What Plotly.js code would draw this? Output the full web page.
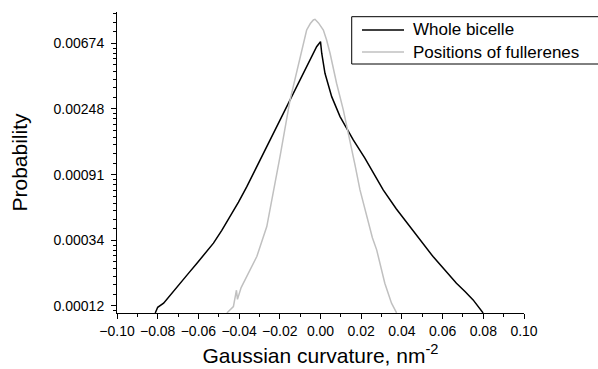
<!DOCTYPE html>
<html>
<head>
<meta charset="utf-8">
<script src="https://cdn.plot.ly/plotly-3.0.1.min.js"></script>
<style>html,body{margin:0;padding:0;background:#fff;}#chart{width:598px;height:369px;}</style>
</head>
<body>
<div id="chart"></div>
<script>
// Whole bicelle
var bicelleX = [-0.0812, -0.0800, -0.0771, -0.0730, -0.0689, -0.0648, -0.0607, -0.0566, -0.0526, -0.0485, -0.0444, -0.0403,
                -0.0362, -0.0321, -0.0281, -0.0215, -0.0150, -0.0085, -0.0019, 0.0000,
                0.0006, 0.0022, 0.0055, 0.0096, 0.0130, 0.0161, 0.0218, 0.0260, 0.0308, 0.0372, 0.0439, 0.0496,
                0.0553, 0.0610, 0.0668, 0.0710, 0.0750, 0.0799];
var bicelleY = [0.000111, 0.000121, 0.0001287, 0.0001507, 0.0001746, 0.0002035, 0.0002367, 0.0002747, 0.0003211, 0.0003898, 0.0004813, 0.0005992,
                0.0007595, 0.000978, 0.0012636, 0.001902, 0.002823, 0.004237, 0.006396, 0.006902,
                0.005788, 0.004267, 0.002989, 0.002205, 0.001836, 0.001546, 0.001171, 0.000931, 0.0007225, 0.000542, 0.0004135, 0.000329,
                0.0002618, 0.0002139, 0.0001746, 0.0001538, 0.0001354, 0.000111];
// Positions of fullerenes
var fullereneX = [-0.0460, -0.0440, -0.0428, -0.0413, -0.0408, -0.0390, -0.0362, -0.0313, -0.0264, -0.0232, -0.0199, -0.0150,
                  -0.0101, -0.0068, -0.0050, -0.0035, -0.0027, -0.0010, 0.0014, 0.0030, 0.0047, 0.0079, 0.0112, 0.0145,
                  0.0170, 0.0194, 0.0235, 0.0255, 0.0276, 0.0296, 0.0316, 0.0349, 0.0374];
var fullereneY = [0.000111, 0.0001175, 0.0001222, 0.0001569, 0.0001364, 0.0001633, 0.000193, 0.0002618, 0.0004135, 0.000687, 0.0011995, 0.002823,
                  0.005227, 0.008246, 0.009095, 0.00961, 0.009706, 0.009191, 0.008246, 0.007083, 0.005788, 0.003665, 0.002442, 0.001546,
                  0.001049, 0.0007225, 0.000435, 0.0003491, 0.00029, 0.0002294, 0.0001746, 0.0001287, 0.000111];

var seriesNames = ['Whole bicelle', 'Positions of fullerenes'];
var seriesColors = ['#000000', '#c0c0c0'];
var xTickVals = [-0.10, -0.08, -0.06, -0.04, -0.02, 0.00, 0.02, 0.04, 0.06, 0.08, 0.10];
var yTickText = ['0.00012', '0.00034', '0.00091', '0.00248', '0.00674'];
var yTickVals = [Math.exp(-9), Math.exp(-8), Math.exp(-7), Math.exp(-6), Math.exp(-5)];

// minor ticks: 8 linear subdivisions between successive e^-n majors
var yMinor = [];
for (var n = 10; n > 3; n--) {
  var a = Math.exp(-n), b = Math.exp(-n + 1);
  for (var k = 1; k < 9; k++) yMinor.push(a + (b - a) * k / 9);
}

var FONT = 'Liberation Sans, Arial, sans-serif';
var YRANGE = [-3.9551, -1.9648];

var traces = [
  {x: bicelleX, y: bicelleY, name: seriesNames[0], type: 'scatter', mode: 'lines',
   line: {color: seriesColors[0], width: 1.5}, showlegend: false},
  {x: fullereneX, y: fullereneY, name: seriesNames[1], type: 'scatter', mode: 'lines',
   line: {color: seriesColors[1], width: 1.5}, showlegend: false},
  // carrier for the minor-tick overlay axis (invisible)
  {x: [bicelleX[0]], y: [bicelleY[0]], xaxis: 'x', yaxis: 'y2', type: 'scatter', mode: 'markers',
   marker: {opacity: 0, size: 1}, showlegend: false, hoverinfo: 'skip'}
];

// legend drawn in paper coordinates
var legX0 = 0.5767, legLine0 = 0.602, legLine1 = 0.7052, legText = 0.7228;
var legRows = [0.9402, 0.8671];
var shapes = [{type: 'rect', xref: 'paper', yref: 'paper', x0: legX0, x1: 1.3, y0: 0.8272, y1: 0.9844,
               line: {color: '#000', width: 1}, fillcolor: 'rgba(0,0,0,0)'}];
var annotations = [];
seriesNames.forEach(function (nm, j) {
  shapes.push({type: 'line', xref: 'paper', yref: 'paper', x0: legLine0, x1: legLine1, y0: legRows[j], y1: legRows[j],
               line: {color: seriesColors[j], width: 1.5}});
  annotations.push({xref: 'paper', yref: 'paper', x: legText, y: legRows[j], xanchor: 'left', yanchor: 'middle',
                    text: nm, showarrow: false, font: {family: FONT, size: 17, color: '#000'}});
});

var layout = {
  width: 598, height: 369,
  margin: {l: 117, r: 74, t: 12, b: 56},
  paper_bgcolor: '#ffffff', plot_bgcolor: '#ffffff',
  font: {family: FONT, color: '#000000', size: 14},
  showlegend: false,
  shapes: shapes,
  annotations: annotations,
  xaxis: {
    range: [-0.1, 0.1], tickmode: 'array', tickvals: xTickVals, tickformat: '.2f',
    showline: true, linecolor: '#000', linewidth: 1, mirror: false,
    ticks: 'outside', ticklen: 5, tickwidth: 1, tickcolor: '#000',
    showgrid: false, zeroline: false,
    tickfont: {family: FONT, size: 14},
    minor: {dtick: 0.01, tick0: 0, ticks: 'outside', ticklen: 3, tickwidth: 1, tickcolor: '#000', showgrid: false},
    title: {text: 'Gaussian curvature, nm<sup>-2</sup>', font: {family: FONT, size: 21}, standoff: 10}
  },
  yaxis: {
    type: 'log', range: YRANGE, tickmode: 'array', tickvals: yTickVals, ticktext: yTickText,
    showline: true, linecolor: '#000', linewidth: 1, mirror: false,
    ticks: 'outside', ticklen: 5, tickwidth: 1, tickcolor: '#000', ticklabelstandoff: 4,
    showgrid: false, zeroline: false,
    tickfont: {family: FONT, size: 14},
    title: {text: 'Probability', font: {family: FONT, size: 21}, standoff: 20}
  },
  yaxis2: {
    overlaying: 'y', anchor: 'x', side: 'left', type: 'log', range: YRANGE,
    tickmode: 'array', tickvals: yMinor, showticklabels: false,
    ticks: 'outside', ticklen: 3, tickwidth: 1, tickcolor: '#000',
    showline: false, showgrid: false, zeroline: false
  }
};

Plotly.newPlot('chart', traces, layout, {displayModeBar: false, staticPlot: true});
</script>
</body>
</html>
